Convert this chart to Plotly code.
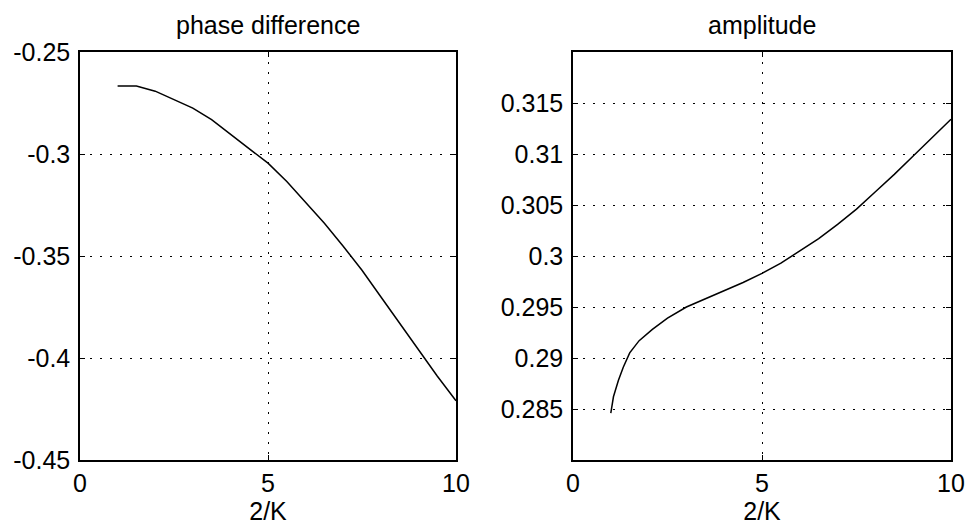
import plotly.graph_objects as go

# ---- data ----
x_phase = [1.0, 1.5, 2.0, 2.5, 3.0, 3.5, 4.0, 4.5, 5.0, 5.5, 6.0, 6.5, 7.0, 7.5, 8.0, 8.5, 9.0, 9.5, 10.0]
phase = [-0.2667, -0.2667, -0.2692, -0.2733, -0.2775, -0.2832, -0.2903, -0.2975, -0.3045, -0.3135,
         -0.3235, -0.3340, -0.3452, -0.3570, -0.3700, -0.3830, -0.3962, -0.4088, -0.4210]

x_amp = [1.0, 1.07, 1.2, 1.33, 1.5, 1.75, 2.1, 2.5, 3.0, 3.5, 4.0, 4.5, 5.0, 5.5, 6.0, 6.5, 7.0,
         7.5, 8.0, 8.5, 9.0, 9.5, 10.0]
amp = [0.2846, 0.2862, 0.2878, 0.2891, 0.2905, 0.2917, 0.2928, 0.2939, 0.2950, 0.2958, 0.2966,
       0.2974, 0.2983, 0.2993, 0.3005, 0.3017, 0.3031, 0.3046, 0.3063, 0.3080, 0.3098, 0.3116, 0.3134]

x_ticks = [0, 5, 10]
x_tick_labels = ["0", "5", "10"]
phase_ticks = [-0.45, -0.4, -0.35, -0.3, -0.25]
phase_tick_labels = ["-0.45", "-0.4", "-0.35", "-0.3", "-0.25"]
amp_ticks = [0.285, 0.29, 0.295, 0.3, 0.305, 0.31, 0.315]
amp_tick_labels = ["0.285", "0.29", "0.295", "0.3", "0.305", "0.31", "0.315"]

titles = ["phase difference", "amplitude"]
x_title = "2/K"

W, H = 965, 528
FONT = dict(family="Liberation Sans, Arial, sans-serif", size=25, color="black")

fig = go.Figure()
fig.add_trace(go.Scatter(x=x_phase, y=phase, mode="lines", line=dict(color="black", width=1.5),
                         xaxis="x", yaxis="y", showlegend=False, hoverinfo="skip"))
fig.add_trace(go.Scatter(x=x_amp, y=amp, mode="lines", line=dict(color="black", width=1.5),
                         xaxis="x2", yaxis="y2", showlegend=False, hoverinfo="skip"))

common = dict(showline=True, linecolor="black", linewidth=1.5, mirror="ticks",
              ticks="inside", ticklen=5, tickcolor="black", tickwidth=1,
              showgrid=True, gridcolor="black", gridwidth=1, griddash="2px,8px",
              zeroline=False, tickfont=FONT, fixedrange=True, automargin=False)

def px_x(p):
    return p / W

def px_y(p):
    return 1 - p / H

y0, y1 = px_y(460), px_y(52)
dx1 = [px_x(80), px_x(456)]
dx2 = [px_x(573), px_x(951)]

fig.update_layout(
    width=W, height=H,
    margin=dict(l=0, r=0, t=0, b=0),
    paper_bgcolor="white", plot_bgcolor="white",
    font=FONT,
    xaxis=dict(domain=dx1, range=[0, 10], tickvals=x_ticks, ticktext=x_tick_labels, anchor="y",
               title=dict(text=x_title, font=FONT, standoff=5), **common),
    yaxis=dict(domain=[y0, y1], range=[-0.45, -0.25], tickvals=phase_ticks,
               ticktext=phase_tick_labels, anchor="x", ticklabelstandoff=3, **common),
    xaxis2=dict(domain=dx2, range=[0, 10], tickvals=x_ticks, ticktext=x_tick_labels, anchor="y2",
                title=dict(text=x_title, font=FONT, standoff=5), **common),
    yaxis2=dict(domain=[y0, y1], range=[0.28, 0.32], tickvals=amp_ticks,
                ticktext=amp_tick_labels, anchor="x2", ticklabelstandoff=3, **common),
    annotations=[
        dict(text=titles[0], x=(dx1[0] + dx1[1]) / 2, y=px_y(25), xref="paper", yref="paper",
             showarrow=False, font=FONT, xanchor="center", yanchor="middle"),
        dict(text=titles[1], x=(dx2[0] + dx2[1]) / 2, y=px_y(25), xref="paper", yref="paper",
             showarrow=False, font=FONT, xanchor="center", yanchor="middle"),
    ],
)

# remove the browser's default 8px body margin so the figure fills the window exactly
fig.write_html("out.html",
               config={"displayModeBar": False},
               post_script="document.body.style.margin='0';document.body.style.overflow='hidden';")
